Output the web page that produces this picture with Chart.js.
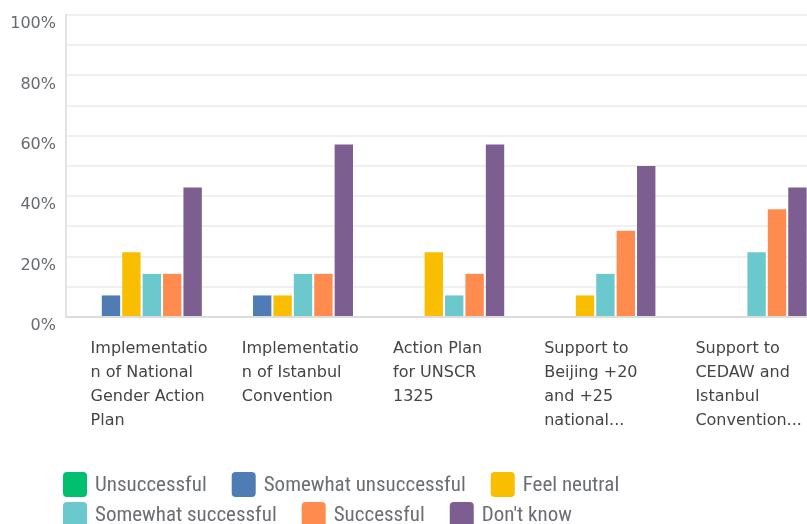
<!DOCTYPE html>
<html><head><meta charset="utf-8">
<script src="https://cdn.jsdelivr.net/npm/chart.js@4.4.1/dist/chart.umd.min.js"></script>
<style>
html,body{margin:0;padding:0;background:#fff;overflow:hidden;width:807px;height:524px}
#wrap{position:relative;width:822px;height:524px}
</style></head><body>
<div id="wrap"><canvas id="c"></canvas></div>
<script>
const categories = [
  ["Implementatio", "n of National", "Gender Action", "Plan"],
  ["Implementatio", "n of Istanbul", "Convention"],
  ["Action Plan", "for UNSCR", "1325"],
  ["Support to", "Beijing +20", "and +25", "national..."],
  ["Support to", "CEDAW and", "Istanbul", "Convention..."]
];
const seriesNames = ["Unsuccessful", "Somewhat unsuccessful", "Feel neutral", "Somewhat successful", "Successful", "Don't know"];
const unsuccessful         = [0, 0, 0, 0, 0];
const somewhatUnsuccessful = [7.14, 7.14, 0, 0, 0];
const feelNeutral          = [21.43, 7.14, 21.43, 7.14, 0];
const somewhatSuccessful   = [14.29, 14.29, 7.14, 14.29, 21.43];
const successful           = [14.29, 14.29, 14.29, 28.57, 35.71];
const dontKnow             = [42.86, 57.14, 57.14, 50.00, 42.86];
const yTickLabels = ["0%", "20%", "40%", "60%", "80%", "100%"];
const colors = ["#00bf6f", "#507cb6", "#f9be00", "#6bc8cd", "#ff8b4f", "#7d5e90"];

const seriesValues = [unsuccessful, somewhatUnsuccessful, feelNeutral, somewhatSuccessful, successful, dontKnow];

const LEGEND_FONT = '21px "Roboto Condensed", "DejaVu Sans Condensed", sans-serif';
const LABEL_FONT_FAMILY = '"DejaVu Sans"';

const customLegend = {
  id: 'customLegend',
  afterDraw(chart) {
    const ctx = chart.ctx;
    ctx.save();
    ctx.font = LEGEND_FONT;
    ctx.textBaseline = 'middle';
    ctx.textAlign = 'left';
    const startX = 63, boxW = 24, boxH = 25, gapText = 8, gapItem = 25, rowH = 30, maxX = 807;
    let x = startX, y = 472;
    chart.data.datasets.forEach((ds, i) => {
      const tw = ctx.measureText(ds.label).width;
      const w = boxW + gapText + tw;
      if (i > 0 && x + w > maxX) { x = startX; y += rowH; }
      ctx.fillStyle = ds.backgroundColor;
      ctx.beginPath();
      ctx.roundRect(x, y, boxW, boxH, 4);
      ctx.fill();
      ctx.fillStyle = '#6b6e72';
      ctx.fillText(ds.label, x + boxW + gapText, y + boxH / 2 + 1);
      x += w + gapItem;
    });
    ctx.restore();
  }
};

new Chart(document.getElementById('c'), {
  type: 'bar',
  data: {
    labels: categories,
    datasets: seriesNames.map((name, i) => ({
      label: name,
      data: seriesValues[i],
      backgroundColor: colors[i],
      borderWidth: 0,
      barPercentage: 0.9,
      categoryPercentage: 0.81
    }))
  },
  options: {
    responsive: true,
    maintainAspectRatio: false,
    animation: false,
    layout: { padding: { top: 15, left: 0, right: 0, bottom: 93 } },
    plugins: { legend: { display: false }, tooltip: { enabled: false } },
    scales: {
      x: {
        grid: { display: false, drawTicks: false },
        border: { display: true, color: '#dcdcdc', width: 2 },
        ticks: {
          align: 'start',
          labelOffset: -51,
          padding: 20,
          color: '#444444',
          font: { family: LABEL_FONT_FAMILY, size: 16, lineHeight: 1.5 },
          maxRotation: 0, minRotation: 0, autoSkip: false
        },
        afterFit(scale) { scale.paddingLeft = 0; scale.paddingRight = 0; scale.height = 114; }
      },
      y: {
        min: 0, max: 100,
        grid: { color: '#f0f0f0', lineWidth: 2, drawTicks: false },
        border: { display: true, color: '#e3e3e3', width: 2 },
        ticks: {
          stepSize: 10,
          padding: 10,
          labelOffset: 9,
          color: '#666a70',
          font: { family: LABEL_FONT_FAMILY, size: 16 },
          callback: (v) => (v % 20 === 0 ? yTickLabels[v / 20] : '')
        },
        afterFit(scale) { scale.width = 66; scale.paddingTop = 0; scale.paddingBottom = 0; }
      }
    }
  },
  plugins: [customLegend]
});
</script>
</body></html>
